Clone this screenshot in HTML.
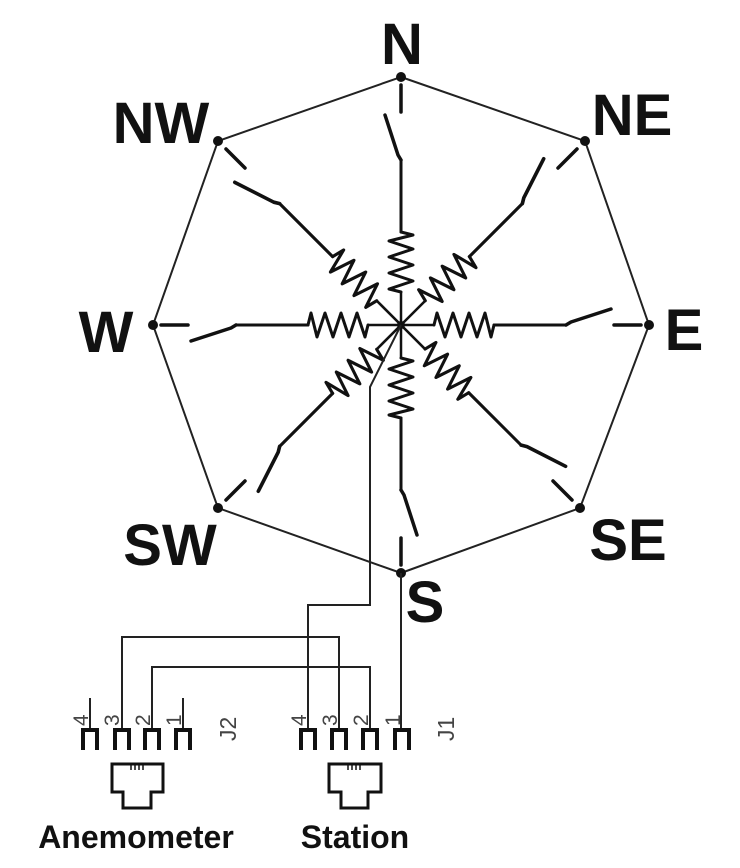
<!DOCTYPE html>
<html><head><meta charset="utf-8"><style>
html,body{margin:0;padding:0;background:#fff;width:740px;height:868px;overflow:hidden}
svg{display:block}
text{font-family:"Liberation Sans",Arial,sans-serif}
</style></head><body>
<svg width="740" height="868" viewBox="0 0 740 868" xmlns="http://www.w3.org/2000/svg">
<defs>
<g id="ray" fill="none" stroke="#111" stroke-linecap="round" stroke-linejoin="round">
  <line x1="0" y1="0" x2="0" y2="-33" stroke-width="2.5"/>
  <polyline points="0,-33 -12,-36 12,-44 -12,-52 12,-60 -12,-68 12,-76 -12,-84 12,-90 0,-93" stroke-width="3"/>
  <line x1="0" y1="-93" x2="0" y2="-165" stroke-width="3"/>
  <polyline points="0,-165 -3,-170 -16,-210" stroke-width="3.5"/>
</g>
</defs>
<g stroke="#222" stroke-width="2" fill="none">
  <polygon points="401,77 585,141 649,325 580,508 401,573 218,508 153,325 218,141"/>
</g>
<g transform="translate(401,325)">
  <use href="#ray" transform="rotate(0)"/>
  <use href="#ray" transform="rotate(45) scale(1.04)"/>
  <use href="#ray" transform="rotate(90)"/>
  <use href="#ray" transform="rotate(135) scale(1.03)"/>
  <use href="#ray" transform="rotate(180)"/>
  <use href="#ray" transform="rotate(225) scale(1.04)"/>
  <use href="#ray" transform="rotate(270)"/>
  <use href="#ray" transform="rotate(315) scale(1.04)"/>
</g>
<g stroke="#111" stroke-width="3.5" stroke-linecap="round">
  <line x1="401" y1="85" x2="401" y2="112"/>
  <line x1="401" y1="538" x2="401" y2="565"/>
  <line x1="161" y1="325" x2="188" y2="325"/>
  <line x1="614" y1="325" x2="641" y2="325"/>
  <line x1="226" y1="149" x2="245" y2="168"/>
  <line x1="577" y1="149" x2="558" y2="168"/>
  <line x1="226" y1="500" x2="245" y2="481"/>
  <line x1="572" y1="500" x2="553" y2="481"/>
</g>
<g fill="#111">
  <circle cx="401" cy="77" r="5"/><circle cx="585" cy="141" r="5"/>
  <circle cx="649" cy="325" r="5"/><circle cx="580" cy="508" r="5"/>
  <circle cx="401" cy="573" r="5"/><circle cx="218" cy="508" r="5"/>
  <circle cx="153" cy="325" r="5"/><circle cx="218" cy="141" r="5"/>
  <circle cx="401" cy="325" r="4"/>
</g>
<g font-size="58" font-weight="bold" fill="#111" text-anchor="middle">
  <text x="402" y="64">N</text>
  <text x="161" y="143">NW</text>
  <text x="632" y="135">NE</text>
  <text x="106" y="352">W</text>
  <text x="684" y="350">E</text>
  <text x="170" y="565">SW</text>
  <text x="628" y="560">SE</text>
  <text x="425" y="622">S</text>
</g>
<g stroke="#222" stroke-width="2" fill="none">
  <polyline points="401,325 370,387 370,605 308,605 308,730"/>
  <line x1="401" y1="573" x2="401" y2="730"/>
  <polyline points="122,730 122,637 339,637 339,730"/>
  <polyline points="152,730 152,667 370,667 370,730"/>
  <line x1="90" y1="698" x2="90" y2="730"/>
  <line x1="183" y1="698" x2="183" y2="730"/>
</g>
<g stroke="#111" stroke-width="4" fill="none">
  <path d="M83,750 V730 H97 V750"/><path d="M115,750 V730 H129 V750"/>
  <path d="M145,750 V730 H159 V750"/><path d="M176,750 V730 H190 V750"/>
  <path d="M301,750 V730 H315 V750"/><path d="M332,750 V730 H346 V750"/>
  <path d="M363,750 V730 H377 V750"/><path d="M395,750 V730 H409 V750"/>
</g>
<g font-size="21" fill="#444">
  <text transform="translate(88,726) rotate(-90)">4</text>
  <text transform="translate(119,726) rotate(-90)">3</text>
  <text transform="translate(150,726) rotate(-90)">2</text>
  <text transform="translate(181,726) rotate(-90)">1</text>
  <text transform="translate(306,726) rotate(-90)">4</text>
  <text transform="translate(337,726) rotate(-90)">3</text>
  <text transform="translate(368,726) rotate(-90)">2</text>
  <text transform="translate(400,726) rotate(-90)">1</text>
  <text transform="translate(236,741) rotate(-90)" font-size="23">J2</text>
  <text transform="translate(454,741) rotate(-90)" font-size="23">J1</text>
</g>
<g stroke="#111" stroke-width="3" fill="none">
  <path d="M112,764 H163 V792 H151 V808 H123 V792 H112 Z"/>
  <path d="M329,764 H381 V792 H368 V808 H341 V792 H329 Z"/>
</g>
<g stroke="#111" stroke-width="1.5">
  <line x1="131" y1="764" x2="131" y2="770"/><line x1="135" y1="764" x2="135" y2="770"/>
  <line x1="139" y1="764" x2="139" y2="770"/><line x1="143" y1="764" x2="143" y2="770"/>
  <line x1="348" y1="764" x2="348" y2="770"/><line x1="352" y1="764" x2="352" y2="770"/>
  <line x1="356" y1="764" x2="356" y2="770"/><line x1="360" y1="764" x2="360" y2="770"/>
</g>
<g font-size="32" font-weight="bold" fill="#111" text-anchor="middle">
  <text x="136" y="848">Anemometer</text>
  <text x="355" y="848">Station</text>
</g>
</svg>
</body></html>
